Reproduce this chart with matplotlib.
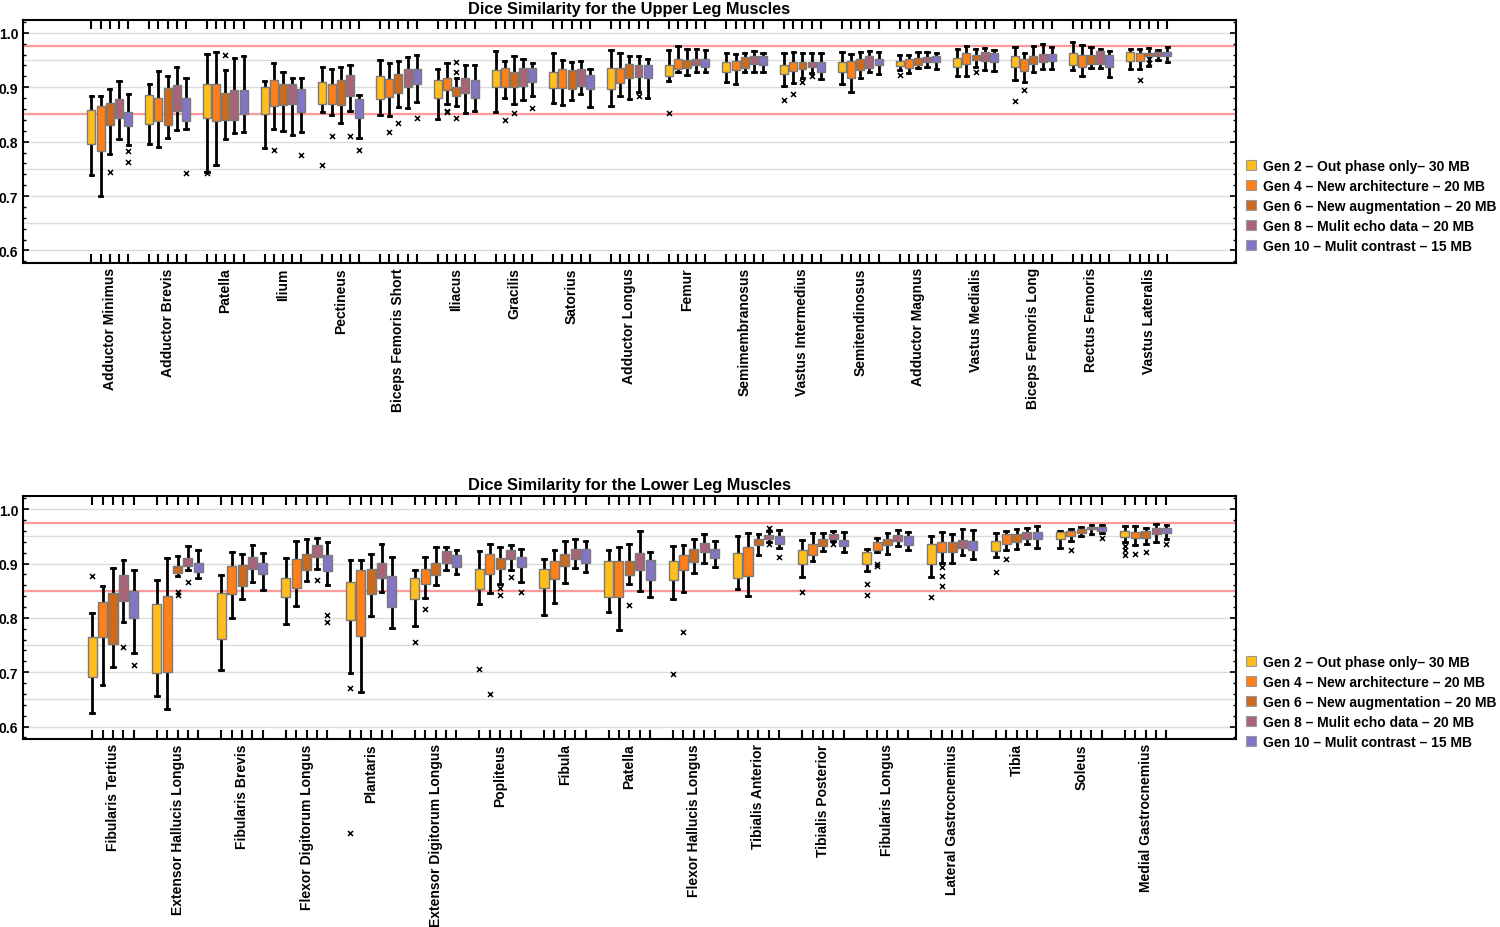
import matplotlib
matplotlib.use("Agg")
import numpy as np
import matplotlib.pyplot as plt
from matplotlib.patches import Patch
from matplotlib.ticker import MultipleLocator, FormatStrFormatter

plt.rcParams['font.family'] = ['Liberation Sans', 'DejaVu Sans']
plt.rcParams['font.weight'] = 'bold'

gen_labels = ["Gen 2 \u2013 Out phase only\u2013 30 MB",
              "Gen 4 \u2013 New architecture \u2013 20 MB",
              "Gen 6 \u2013 New augmentation \u2013 20 MB",
              "Gen 8 \u2013 Mulit echo data \u2013 20 MB",
              "Gen 10 \u2013 Mulit contrast \u2013 15 MB"]
gen_colors = ["#FFBE1E", "#FF8019", "#CC6B1E", "#A9647A", "#8474C8"]

# ---------------- upper leg ----------------
upper_muscles = ["Adductor Minimus", "Adductor Brevis", "Patella", "Ilium", "Pectineus",
                 "Biceps Femoris Short", "Iliacus", "Gracilis", "Satorius", "Adductor Longus",
                 "Femur", "Semimembranosus", "Vastus Intermedius", "Semitendinosus",
                 "Adductor Magnus", "Vastus Medialis", "Biceps Femoris Long", "Rectus Femoris",
                 "Vastus Lateralis"]

upper_lo = [[0.739, 0.701, 0.777, 0.804, 0.793],
            [0.795, 0.791, 0.807, 0.821, 0.823],
            [0.744, 0.757, 0.805, 0.816, 0.818],
            [0.788, 0.824, 0.820, 0.812, 0.817],
            [0.854, 0.848, 0.834, 0.857, 0.806],
            [0.849, 0.847, 0.863, 0.861, 0.873],
            [0.842, 0.869, 0.866, 0.853, 0.856],
            [0.855, 0.880, 0.869, 0.876, 0.884],
            [0.871, 0.867, 0.876, 0.887, 0.864],
            [0.865, 0.883, 0.878, 0.892, 0.880],
            [0.912, 0.928, 0.922, 0.928, 0.928],
            [0.909, 0.905, 0.928, 0.928, 0.928],
            [0.903, 0.908, 0.917, 0.926, 0.915],
            [0.906, 0.891, 0.916, 0.928, 0.924],
            [0.932, 0.926, 0.936, 0.938, 0.934],
            [0.920, 0.920, 0.937, 0.931, 0.930],
            [0.914, 0.909, 0.928, 0.934, 0.934],
            [0.931, 0.920, 0.936, 0.936, 0.919],
            [0.933, 0.933, 0.939, 0.950, 0.947]]

upper_q1 = [[0.795, 0.783, 0.830, 0.843, 0.829],
            [0.832, 0.837, 0.831, 0.857, 0.837],
            [0.843, 0.838, 0.839, 0.839, 0.850],
            [0.850, 0.866, 0.867, 0.869, 0.855],
            [0.870, 0.870, 0.868, 0.884, 0.844],
            [0.878, 0.882, 0.889, 0.901, 0.906],
            [0.880, 0.895, 0.883, 0.889, 0.881],
            [0.900, 0.900, 0.900, 0.902, 0.909],
            [0.898, 0.898, 0.897, 0.903, 0.897],
            [0.897, 0.908, 0.916, 0.919, 0.916],
            [0.921, 0.933, 0.936, 0.940, 0.938],
            [0.928, 0.931, 0.935, 0.943, 0.941],
            [0.924, 0.930, 0.933, 0.937, 0.928],
            [0.927, 0.917, 0.931, 0.936, 0.940],
            [0.939, 0.936, 0.941, 0.947, 0.946],
            [0.938, 0.942, 0.950, 0.949, 0.946],
            [0.938, 0.930, 0.942, 0.946, 0.949],
            [0.941, 0.938, 0.943, 0.943, 0.938],
            [0.949, 0.948, 0.958, 0.957, 0.957]]

upper_q3 = [[0.858, 0.865, 0.871, 0.879, 0.855],
            [0.886, 0.881, 0.898, 0.904, 0.881],
            [0.906, 0.906, 0.889, 0.895, 0.894],
            [0.900, 0.914, 0.906, 0.906, 0.897],
            [0.909, 0.905, 0.913, 0.923, 0.878],
            [0.920, 0.915, 0.924, 0.933, 0.933],
            [0.914, 0.916, 0.900, 0.917, 0.913],
            [0.931, 0.936, 0.927, 0.936, 0.935],
            [0.928, 0.934, 0.932, 0.933, 0.923],
            [0.936, 0.936, 0.942, 0.941, 0.940],
            [0.941, 0.951, 0.950, 0.952, 0.952],
            [0.946, 0.949, 0.956, 0.958, 0.957],
            [0.940, 0.946, 0.947, 0.947, 0.946],
            [0.947, 0.949, 0.951, 0.958, 0.952],
            [0.949, 0.951, 0.954, 0.956, 0.958],
            [0.954, 0.962, 0.960, 0.964, 0.962],
            [0.957, 0.952, 0.957, 0.961, 0.961],
            [0.963, 0.959, 0.960, 0.966, 0.960],
            [0.964, 0.962, 0.963, 0.964, 0.964]]

upper_hi = [[0.883, 0.884, 0.896, 0.912, 0.888],
            [0.906, 0.930, 0.920, 0.938, 0.917],
            [0.961, 0.965, 0.931, 0.954, 0.958],
            [0.912, 0.944, 0.927, 0.917, 0.917],
            [0.938, 0.933, 0.938, 0.941, 0.885],
            [0.950, 0.945, 0.949, 0.956, 0.959],
            [0.933, 0.945, 0.917, 0.941, 0.941],
            [0.967, 0.949, 0.958, 0.952, 0.945],
            [0.963, 0.950, 0.946, 0.948, 0.933],
            [0.969, 0.962, 0.958, 0.958, 0.951],
            [0.968, 0.976, 0.971, 0.970, 0.969],
            [0.963, 0.961, 0.963, 0.966, 0.963],
            [0.963, 0.965, 0.962, 0.963, 0.963],
            [0.964, 0.961, 0.965, 0.966, 0.965],
            [0.960, 0.959, 0.965, 0.964, 0.962],
            [0.970, 0.976, 0.971, 0.972, 0.969],
            [0.974, 0.963, 0.975, 0.980, 0.974],
            [0.983, 0.977, 0.974, 0.971, 0.966],
            [0.970, 0.971, 0.972, 0.969, 0.974]]

upper_out = [[[], [], [0.745], [], [0.783, 0.762]],
             [[], [], [], [], [0.742]],
             [[0.742], [], [0.960], [], []],
             [[], [0.785], [], [], [0.776]],
             [[0.757], [0.811], [], [0.810], [0.785]],
             [[], [0.818], [0.835], [], [0.844]],
             [[], [0.857, 0.854], [0.946, 0.927, 0.843], [], []],
             [[], [0.840], [0.853], [], [0.862]],
             [[], [], [], [], []],
             [[], [], [], [0.883], []],
             [[0.853], [], [], [], []],
             [[], [], [], [], []],
             [[0.877], [0.887], [0.910], [0.920], []],
             [[], [], [], [], []],
             [[0.922], [], [], [], []],
             [[], [], [0.928], [], []],
             [[0.875], [0.895], [], [], []],
             [[], [], [], [], []],
             [[], [0.914], [0.951, 0.945], [], []]]

# ---------------- lower leg ----------------
lower_muscles = ["Fibularis Tertius", "Extensor Hallucis Longus", "Fibularis Brevis",
                 "Flexor Digitorum Longus", "Plantaris", "Extensor Digitorum Longus",
                 "Popliteus", "Fibula", "Patella", "Flexor Hallucis Longus",
                 "Tibialis Anterior", "Tibialis Posterior", "Fibularis Longus",
                 "Lateral Gastrocnemius", "Tibia", "Soleus", "Medial Gastrocnemius"]

lower_lo = [[0.625, 0.677, 0.709, 0.792, 0.735],
            [0.656, 0.632, 0.878, 0.888, 0.873],
            [0.704, 0.800, 0.834, 0.866, 0.851],
            [0.789, 0.822, 0.868, 0.891, 0.861],
            [0.698, 0.664, 0.803, 0.847, 0.782],
            [0.786, 0.837, 0.861, 0.889, 0.881],
            [0.826, 0.846, 0.863, 0.889, 0.866],
            [0.805, 0.828, 0.864, 0.892, 0.885],
            [0.811, 0.778, 0.863, 0.849, 0.839],
            [0.834, 0.847, 0.883, 0.902, 0.893],
            [0.853, 0.841, 0.916, 0.940, 0.929],
            [0.876, 0.904, 0.924, 0.941, 0.921],
            [0.886, 0.921, 0.918, 0.932, 0.926],
            [0.876, 0.901, 0.902, 0.916, 0.908],
            [0.913, 0.926, 0.927, 0.937, 0.929],
            [0.929, 0.941, 0.950, 0.955, 0.957],
            [0.939, 0.934, 0.937, 0.940, 0.946]]

lower_q1 = [[0.692, 0.764, 0.752, 0.831, 0.800],
            [0.699, 0.700, 0.882, 0.896, 0.884],
            [0.761, 0.844, 0.859, 0.891, 0.880],
            [0.839, 0.855, 0.889, 0.912, 0.886],
            [0.797, 0.767, 0.844, 0.873, 0.821],
            [0.835, 0.863, 0.879, 0.902, 0.894],
            [0.853, 0.881, 0.890, 0.908, 0.894],
            [0.856, 0.872, 0.895, 0.908, 0.902],
            [0.838, 0.839, 0.879, 0.889, 0.869],
            [0.869, 0.888, 0.903, 0.922, 0.910],
            [0.874, 0.878, 0.934, 0.946, 0.937],
            [0.899, 0.916, 0.932, 0.946, 0.933],
            [0.900, 0.925, 0.935, 0.942, 0.935],
            [0.900, 0.922, 0.922, 0.929, 0.925],
            [0.923, 0.937, 0.940, 0.945, 0.945],
            [0.946, 0.950, 0.957, 0.963, 0.960],
            [0.949, 0.947, 0.947, 0.955, 0.957]]

lower_q3 = [[0.764, 0.830, 0.845, 0.879, 0.850],
            [0.825, 0.840, 0.896, 0.911, 0.902],
            [0.845, 0.895, 0.897, 0.912, 0.902],
            [0.873, 0.908, 0.917, 0.934, 0.915],
            [0.867, 0.888, 0.891, 0.902, 0.877],
            [0.874, 0.891, 0.902, 0.923, 0.916],
            [0.891, 0.918, 0.910, 0.926, 0.913],
            [0.891, 0.905, 0.918, 0.927, 0.927],
            [0.905, 0.905, 0.905, 0.920, 0.907],
            [0.904, 0.915, 0.927, 0.938, 0.927],
            [0.919, 0.930, 0.946, 0.952, 0.951],
            [0.925, 0.937, 0.946, 0.954, 0.943],
            [0.921, 0.940, 0.946, 0.952, 0.950],
            [0.937, 0.940, 0.940, 0.944, 0.941],
            [0.942, 0.954, 0.954, 0.959, 0.958],
            [0.958, 0.960, 0.963, 0.968, 0.967],
            [0.960, 0.958, 0.960, 0.966, 0.966]]

lower_hi = [[0.809, 0.858, 0.892, 0.906, 0.888],
            [0.870, 0.911, 0.914, 0.932, 0.925],
            [0.879, 0.921, 0.918, 0.935, 0.919],
            [0.910, 0.942, 0.945, 0.947, 0.940],
            [0.907, 0.907, 0.917, 0.937, 0.913],
            [0.889, 0.913, 0.931, 0.930, 0.925],
            [0.923, 0.936, 0.931, 0.935, 0.927],
            [0.908, 0.925, 0.941, 0.945, 0.941],
            [0.925, 0.930, 0.936, 0.960, 0.922],
            [0.933, 0.935, 0.945, 0.954, 0.942],
            [0.951, 0.957, 0.954, 0.960, 0.962],
            [0.944, 0.957, 0.957, 0.960, 0.959],
            [0.927, 0.947, 0.957, 0.962, 0.959],
            [0.951, 0.959, 0.955, 0.964, 0.962],
            [0.957, 0.960, 0.964, 0.966, 0.969],
            [0.960, 0.963, 0.968, 0.971, 0.971],
            [0.969, 0.970, 0.966, 0.973, 0.971]]

lower_out = [[[0.878], [], [], [0.746], [0.714]],
             [[], [], [0.848, 0.843], [0.866], []],
             [[], [], [], [], []],
             [[], [], [], [0.870], [0.806, 0.792]],
             [[0.670, 0.403], [], [], [], []],
             [[0.756], [0.816], [], [], []],
             [[0.705], [0.659], [0.856, 0.842], [0.876], [0.848]],
             [[], [], [], [], []],
             [[], [], [0.824], [], []],
             [[0.696], [0.774], [], [], []],
             [[], [], [], [0.965, 0.936], [0.913]],
             [[0.847], [], [], [0.937], []],
             [[0.863, 0.842], [0.900, 0.895], [], [], []],
             [[0.838], [0.893, 0.877, 0.858], [], [], []],
             [[0.885], [0.908], [], [], []],
             [[], [0.926], [], [], [0.947]],
             [[0.933, 0.925, 0.916], [0.918], [0.921], [], [0.937]]]


def draw_panel(ax, muscles, lo, q1, q3, hi, out, title, step, margin):
    n = len(muscles)
    stats, pos, cols = [], [], []
    for i in range(n):
        for k in range(5):
            stats.append(dict(whislo=lo[i][k], q1=q1[i][k],
                              med=(q1[i][k] + q3[i][k]) / 2, q3=q3[i][k],
                              whishi=hi[i][k], fliers=out[i][k]))
            pos.append(i + (k - 2) * step)
            cols.append(gen_colors[k])

    for g in np.arange(0.6, 1.001, 0.05):
        ax.axhline(g, color="#DCDCDC", lw=1.0, zorder=0)
    ax.axhline(0.85, color="#FF9A9A", lw=1.6, zorder=1)
    ax.axhline(0.975, color="#FF9A9A", lw=1.6, zorder=1)

    art = ax.bxp(stats, positions=pos, widths=0.87 * step, capwidths=0.36 * step,
                 patch_artist=True, manage_ticks=False,
                 boxprops=dict(edgecolor="#7A7A7A", linewidth=1.0),
                 whiskerprops=dict(color="black", linewidth=2.0),
                 capprops=dict(color="black", linewidth=2.0),
                 medianprops=dict(linewidth=0),
                 flierprops=dict(marker="x", markeredgecolor="black",
                                 markersize=3.6, markeredgewidth=1.1))
    for b, c in zip(art["boxes"], cols):
        b.set_facecolor(c)
        b.set_zorder(3)
    for f in art["fliers"]:
        f.set_clip_on(False)

    ax.set_xlim(-margin, n - 1 + margin)
    ax.set_ylim(0.577, 1.024)
    ax.set_title(title, fontsize=11.8, fontweight="bold", pad=5)

    ax.xaxis.remove_overlapping_locs = False
    ax.set_xticks(range(n))
    ax.set_xticklabels(muscles, rotation=90, fontsize=10, va="top", ha="center")
    ax.set_xticks(pos, minor=True)
    ax.tick_params(axis="x", which="major", length=0, pad=3)
    ax.tick_params(axis="x", which="minor", direction="in", length=6.5, width=1.5,
                   top=True, bottom=True)

    ax.yaxis.set_major_locator(MultipleLocator(0.1))
    ax.yaxis.set_minor_locator(MultipleLocator(0.02))
    ax.yaxis.set_major_formatter(FormatStrFormatter("%.1f"))
    ax.tick_params(axis="y", which="major", direction="in", length=4, width=1.2,
                   left=True, right=True, labelsize=10, pad=3)
    ax.tick_params(axis="y", which="minor", direction="in", length=2.5, width=1.0,
                   left=True, right=True)
    for s in ax.spines.values():
        s.set_linewidth(1.5)


fig = plt.figure(figsize=(15, 9.28), dpi=100)
ax1 = fig.add_axes([0.0151, 0.7155, 0.8089, 0.2622])
ax2 = fig.add_axes([0.0151, 0.2026, 0.8089, 0.2615])

draw_panel(ax1, upper_muscles, upper_lo, upper_q1, upper_q3, upper_hi, upper_out,
           "Dice Similarity for the Upper Leg Muscles", 0.159, 1.51)
draw_panel(ax2, lower_muscles, lower_lo, lower_q1, lower_q3, lower_hi, lower_out,
           "Dice Similarity for the Lower Leg Muscles", 0.161, 1.40)

handles = [Patch(facecolor=c, edgecolor="#9A9A9A", linewidth=0.8) for c in gen_colors]
for yc in (0.777, 0.2426):
    fig.legend(handles, gen_labels, loc="center left", bbox_to_anchor=(0.827, yc),
               frameon=False, handlelength=0.7, handleheight=0.7, handletextpad=0.55,
               labelspacing=0.43, prop=dict(size=10, weight="bold"), borderaxespad=0)

fig.savefig("out.png", dpi=100)
